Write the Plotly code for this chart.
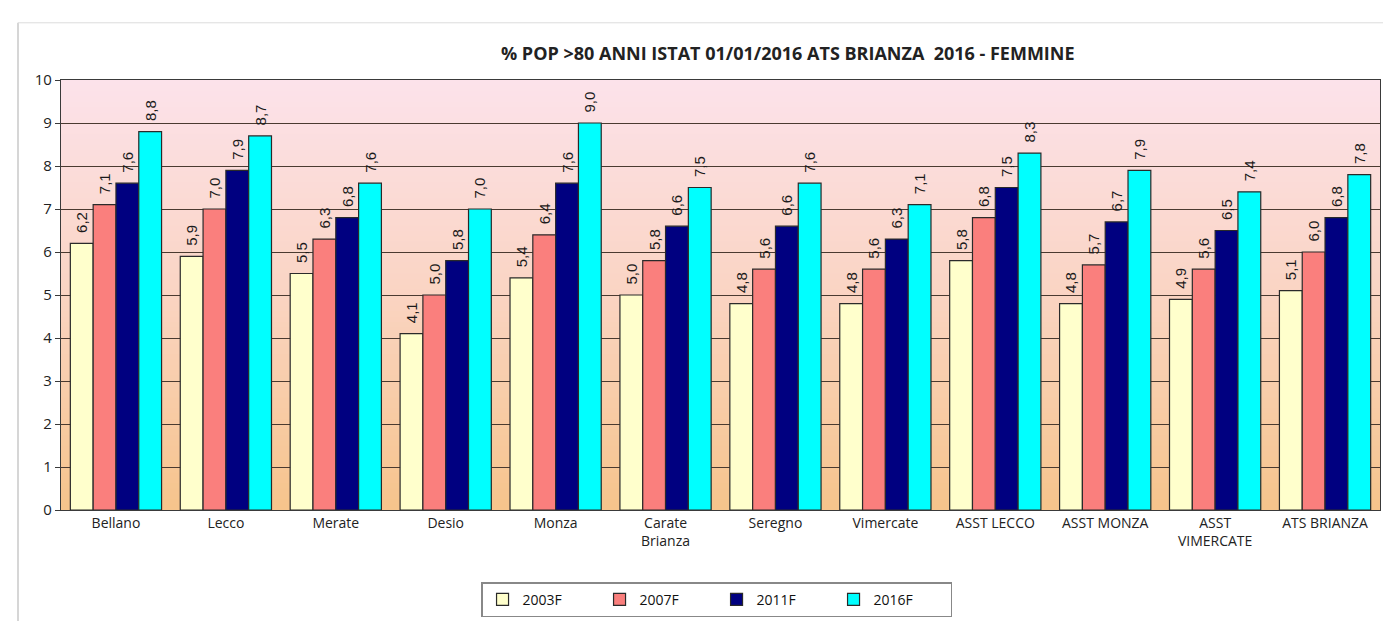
import plotly.graph_objects as go

categories = ["Bellano", "Lecco", "Merate", "Desio", "Monza", "Carate<br>Brianza",
              "Seregno", "Vimercate", "ASST LECCO", "ASST MONZA", "ASST<br>VIMERCATE",
              "ATS BRIANZA"]
series_names = ["2003F", "2007F", "2011F", "2016F"]
v2003 = [6.2, 5.9, 5.5, 4.1, 5.4, 5.0, 4.8, 4.8, 5.8, 4.8, 4.9, 5.1]
v2007 = [7.1, 7.0, 6.3, 5.0, 6.4, 5.8, 5.6, 5.6, 6.8, 5.7, 5.6, 6.0]
v2011 = [7.6, 7.9, 6.8, 5.8, 7.6, 6.6, 6.6, 6.3, 7.5, 6.7, 6.5, 6.8]
v2016 = [8.8, 8.7, 7.6, 7.0, 9.0, 7.5, 7.6, 7.1, 8.3, 7.9, 7.4, 7.8]
colors = ["#ffffcc", "#fa7f7d", "#000080", "#00ffff"]
y_ticks = [0, 1, 2, 3, 4, 5, 6, 7, 8, 9, 10]

fig = go.Figure()
for name, vals, col in zip(series_names, [v2003, v2007, v2011, v2016], colors):
    fig.add_trace(go.Bar(
        x=categories, y=vals, name=name,
        marker=dict(color=col, line=dict(color="#2a2a2a", width=1.2)),
        texttemplate="\u2002%{y:.1f}", textposition="outside", textangle=-90,
        constraintext="none",
        textfont=dict(family="Liberation Sans, Arial", size=15, color="#1a1a1a"),
        cliponaxis=False,
    ))

# gradient background for plot area
n = 80
top = (252, 226, 234)
mid = (250, 212, 194)
bot = (246, 196, 140)
shapes = []
for i in range(n):
    t = i / (n - 1)  # 0 bottom -> 1 top
    if t < 0.5:
        a, b, f = bot, mid, t / 0.5
    else:
        a, b, f = mid, top, (t - 0.5) / 0.5
    c = tuple(int(round(a[k] + (b[k] - a[k]) * f)) for k in range(3))
    shapes.append(dict(type="rect", xref="paper", yref="paper",
                       x0=0, x1=1, y0=i / n, y1=(i + 1) / n + 0.002,
                       fillcolor="rgb(%d,%d,%d)" % c, line=dict(width=0),
                       layer="below"))
# outer chart frame
shapes.append(dict(type="line", xref="paper", yref="paper", x0=-0.0326, x1=-0.0326,
                   y0=-0.3, y1=1.133, line=dict(color="#c8c8c8", width=1.5)))
shapes.append(dict(type="line", xref="paper", yref="paper", x0=-0.0326, x1=1.02,
                   y0=1.133, y1=1.133, line=dict(color="#dcdcdc", width=1)))

fig.update_layout(
    width=1391, height=621,
    paper_bgcolor="white", plot_bgcolor="rgba(0,0,0,0)",
    separators=",.",
    margin=dict(l=53, r=19, t=72, b=107),
    barmode="group", bargap=0.17, bargroupgap=0,
    shapes=shapes,
    font=dict(family="Open Sans, Liberation Sans, Arial", color="#222222"),
    title=dict(text="<b>% POP >80 ANNI ISTAT 01/01/2016 ATS BRIANZA  2016 - FEMMINE</b>",
               x=0.551, xref="paper", xanchor="center",
               y=0.927, yref="container", yanchor="middle",
               font=dict(family="Open Sans, Liberation Sans, Arial", size=18, color="#222222")),
    legend=dict(orientation="h", x=0.497, xref="paper", xanchor="center",
                y=-0.168, yanchor="top", bordercolor="#888888", borderwidth=1.5,
                bgcolor="white", entrywidth=72, entrywidthmode="pixels",
                itemwidth=30,
                font=dict(family="Open Sans, Liberation Sans, Arial", size=14, color="#111111"),
                traceorder="normal"),
    showlegend=True,
)
fig.update_xaxes(showline=True, linecolor="#3a3a3a", linewidth=1.2, mirror=True,
                 showgrid=False, ticks="", tickfont=dict(size=14, color="#222222"))
fig.update_yaxes(range=[0, 10], tickvals=y_ticks, showgrid=True, gridcolor="#4a3a30",
                 gridwidth=1, showline=True, linecolor="#3a3a3a", linewidth=1.2,
                 mirror=True, ticks="outside", ticklen=5, tickcolor="#3a3a3a",
                 tickfont=dict(size=15, color="#222222"), zeroline=False)

fig.write_html("out.html")
